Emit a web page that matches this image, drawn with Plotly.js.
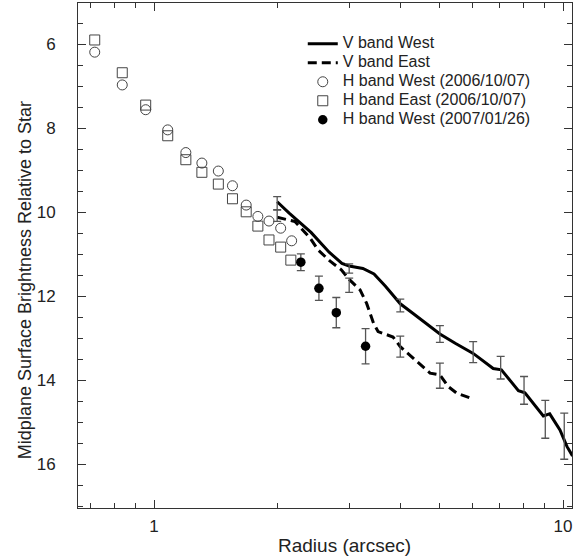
<!DOCTYPE html>
<html>
<head>
<meta charset="utf-8">
<script src="https://cdn.plot.ly/plotly-3.0.1.min.js"></script>
<style>html,body{margin:0;padding:0;background:#fff}#chart{width:574px;height:558px}</style>
</head>
<body>
<div id="chart"></div>
<script>
// V band West (solid line)
const vWestR = [2.0, 2.14, 2.42, 2.68, 2.88, 3.0, 3.24, 3.45, 3.68, 4.0, 4.3, 5.0, 5.45, 6.03, 6.75, 7.07, 7.78, 8.07, 8.95, 9.28, 9.83, 10.23, 10.55];
const vWestM = [9.75, 10.02, 10.48, 10.95, 11.22, 11.28, 11.34, 11.47, 11.76, 12.18, 12.41, 12.9, 13.12, 13.36, 13.72, 13.75, 14.25, 14.3, 14.85, 14.8, 15.18, 15.58, 15.8];
// V band East (dashed line)
const vEastR = [2.0, 2.21, 2.41, 2.52, 2.69, 2.87, 3.0, 3.19, 3.31, 3.44, 3.53, 3.84, 4.0, 4.22, 4.47, 4.73, 5.0, 5.24, 5.5, 5.92, 6.05];
const vEastM = [10.12, 10.22, 10.62, 10.9, 11.16, 11.37, 11.6, 11.85, 12.17, 12.64, 12.84, 12.97, 13.2, 13.4, 13.6, 13.83, 13.87, 14.15, 14.31, 14.43, 14.45];
// Error bars on V band profiles
const vWestErrR = [2.0, 3.0, 4.0, 5.0, 6.03, 7.04, 8.03, 9.05, 10.07];
const vWestErrM = [9.79, 11.34, 12.22, 12.9, 13.33, 13.7, 14.24, 14.93, 15.33];
const vWestErr = [0.16, 0.11, 0.15, 0.2, 0.25, 0.27, 0.33, 0.45, 0.55];
const vEastErrR = [2.0, 3.0, 4.0, 5.0];
const vEastErrM = [10.08, 11.74, 13.2, 13.89];
const vEastErr = [0.14, 0.17, 0.25, 0.3];
// H band West (2006/10/07)
const hWestR = [0.716, 0.836, 0.954, 1.08, 1.196, 1.309, 1.436, 1.555, 1.68, 1.794, 1.91, 2.04, 2.17];
const hWestM = [6.19, 6.97, 7.56, 8.04, 8.58, 8.83, 9.02, 9.37, 9.83, 10.1, 10.21, 10.38, 10.68];
// H band East (2006/10/07)
const hEastR = [0.716, 0.836, 0.954, 1.08, 1.196, 1.309, 1.436, 1.555, 1.68, 1.794, 1.91, 2.04, 2.16];
const hEastM = [5.9, 6.68, 7.45, 8.18, 8.75, 9.05, 9.33, 9.68, 9.99, 10.33, 10.66, 10.83, 11.14];
// H band West (2007/01/26)
const h07R = [2.285, 2.53, 2.79, 3.29];
const h07M = [11.19, 11.81, 12.39, 13.19];
const h07Err = [0.2, 0.29, 0.36, 0.42];
// Axis ticks and labels
const xTickVals = [1, 10];
const xTickText = ['1', '10'];
const xMinorVals = [0.7, 0.8, 0.9, 2, 3, 4, 5, 6, 7, 8, 9];
const yTickVals = [6, 8, 10, 12, 14, 16];
const seriesNames = ['V band West', 'V band East', 'H band West (2006/10/07)', 'H band East (2006/10/07)', 'H band West (2007/01/26)'];
const xTitle = 'Radius (arcsec)';
const yTitle = 'Midplane Surface Brightness Relative to Star';

const lg = s => '<span style="font-size:16px">' + s + '</span>';
const errStyle = {type: 'data', visible: true, color: '#555', thickness: 1.3, width: 4};

const traces = [
  {x: vWestR, y: vWestM, mode: 'lines', name: lg(seriesNames[0]), line: {color: '#000', width: 3}},
  {x: vEastR, y: vEastM, mode: 'lines', name: lg(seriesNames[1]), line: {color: '#000', width: 3, dash: '9px,5px'}},
  {x: hWestR, y: hWestM, mode: 'markers', name: lg(seriesNames[2]),
   marker: {symbol: 'circle-open', size: 10, color: '#444', line: {width: 1}}},
  {x: hEastR, y: hEastM, mode: 'markers', name: lg(seriesNames[3]),
   marker: {symbol: 'square-open', size: 10, color: '#444', line: {width: 1}}},
  {x: h07R, y: h07M, mode: 'markers', name: lg(seriesNames[4]),
   marker: {symbol: 'circle', size: 9.5, color: '#000'},
   error_y: Object.assign({array: h07Err}, errStyle)},
  {x: vWestErrR, y: vWestErrM, mode: 'markers', showlegend: false, hoverinfo: 'skip',
   marker: {size: 1, opacity: 0}, error_y: Object.assign({array: vWestErr}, errStyle)},
  {x: vEastErrR, y: vEastErrM, mode: 'markers', showlegend: false, hoverinfo: 'skip',
   marker: {size: 1, opacity: 0}, error_y: Object.assign({array: vEastErr}, errStyle)}
];

const font = 'Liberation Sans, Arial, Helvetica, sans-serif';
const layout = {
  width: 574, height: 558,
  margin: {l: 78, r: 2, t: 3, b: 50},
  paper_bgcolor: '#fff', plot_bgcolor: '#fff',
  font: {family: font, color: '#222'},
  showlegend: true,
  legend: {x: 0.455, y: 0.948, xanchor: 'left', yanchor: 'top', bgcolor: 'rgba(0,0,0,0)',
           font: {size: 12, family: font, color: '#222'}, tracegroupgap: 0},
  xaxis: {
    type: 'log', range: [-0.186, 1.022],
    tickmode: 'array', tickvals: xTickVals, ticktext: xTickText,
    ticks: 'inside', ticklen: 8, tickwidth: 1, tickcolor: '#333',
    minor: {tickmode: 'array', tickvals: xMinorVals, ticks: 'inside', ticklen: 5, tickwidth: 1, tickcolor: '#333', showgrid: false},
    showline: true, linecolor: '#333', linewidth: 1, mirror: 'ticks',
    showgrid: false, zeroline: false,
    tickfont: {size: 17, family: font, color: '#222'}, ticklabelstandoff: 3
  },
  yaxis: {
    range: [17.04, 5.02],
    tickmode: 'array', tickvals: yTickVals,
    ticks: 'inside', ticklen: 8, tickwidth: 1, tickcolor: '#333',
    minor: {dtick: 0.5, ticks: 'inside', ticklen: 5, tickwidth: 1, tickcolor: '#333', showgrid: false},
    showline: true, linecolor: '#333', linewidth: 1, mirror: 'ticks',
    showgrid: false, zeroline: false,
    tickfont: {size: 17, family: font, color: '#222'}, ticklabelstandoff: 18
  },
  annotations: [
    {text: xTitle, xref: 'paper', yref: 'paper', x: 0.5385, y: -0.075, xanchor: 'center', yanchor: 'middle',
     showarrow: false, font: {size: 19, family: font, color: '#222'}},
    {text: yTitle, xref: 'paper', yref: 'paper', x: -0.107, y: 0.4515, xanchor: 'center', yanchor: 'middle',
     textangle: -90, showarrow: false, font: {size: 18, family: font, color: '#222'}}
  ]
};

Plotly.newPlot('chart', traces, layout, {displayModeBar: false, staticPlot: true});
</script>
</body>
</html>
